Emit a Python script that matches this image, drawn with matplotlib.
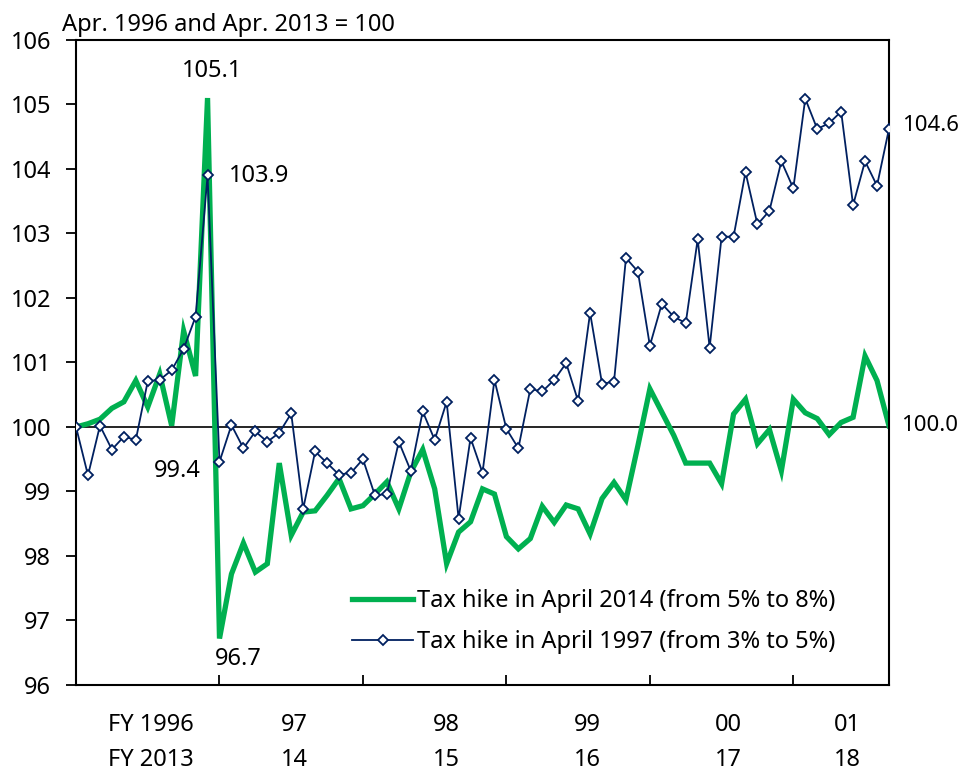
import numpy as np
import matplotlib
matplotlib.use("Agg")
import matplotlib.pyplot as plt
import matplotlib.transforms as mtransforms

plt.rcParams['font.family'] = ['Noto Sans', 'DejaVu Sans']

# monthly index, Apr. of the first FY = 100
months = np.arange(69)

# tax hike in April 1997 (FY1996 start)
blue = [100.0, 99.25, 100.02, 99.65, 99.85, 99.8, 100.71, 100.73, 100.88, 101.21, 101.71, 103.9,
        99.46, 100.03, 99.67, 99.93, 99.77, 99.91, 100.21, 98.73, 99.62, 99.44, 99.26, 99.29,
        99.5, 98.94, 98.96, 99.77, 99.32, 100.24, 99.8, 100.39, 98.58, 99.83, 99.29, 100.73,
        99.97, 99.67, 100.59, 100.55, 100.73, 100.99, 100.4, 101.77, 100.67, 100.7, 102.62, 102.41,
        101.26, 101.91, 101.71, 101.61, 102.91, 101.23, 102.95, 102.95, 103.95, 103.14, 103.35, 104.12,
        103.7, 105.09, 104.62, 104.71, 104.89, 103.44, 104.12, 103.74, 104.62]

# tax hike in April 2014 (FY2013 start)
green = [100.0, 100.05, 100.12, 100.29, 100.39, 100.72, 100.31, 100.82, 100.02, 101.49, 100.79, 105.1,
         96.72, 97.72, 98.2, 97.75, 97.88, 99.44, 98.32, 98.68, 98.7, 98.94, 99.2, 98.73,
         98.78, 98.96, 99.15, 98.73, 99.3, 99.65, 99.04, 97.88, 98.37, 98.53, 99.04, 98.96,
         98.3, 98.11, 98.27, 98.77, 98.52, 98.79, 98.73, 98.34, 98.89, 99.14, 98.87, 99.71,
         100.59, 100.23, 99.87, 99.44, 99.44, 99.44, 99.12, 100.2, 100.43, 99.74, 99.96, 99.32,
         100.43, 100.22, 100.13, 99.88, 100.07, 100.15, 101.1, 100.72, 100.02]

fy_ticks = [12, 24, 36, 48, 60]
label_pos = [6.3, 18.3, 31.0, 42.8, 54.6, 64.5]
fy_old = ['FY 1996', '97', '98', '99', '00', '01']
fy_new = ['FY 2013', '14', '15', '16', '17', '18']

GREEN = '#00B050'
NAVY = '#002060'
FS = 17

fig = plt.figure(figsize=(9.65, 7.76), dpi=100)
ax = fig.add_axes([0.0788, 0.1173, 0.8424, 0.8312])

ax.axhline(100, color='black', lw=1.2, zorder=1)
ax.plot(months, green, color=GREEN, lw=3.8, solid_joinstyle='miter', zorder=2,
        label='Tax hike in April 2014 (from 5% to 8%)')
ax.plot(months, blue, color=NAVY, lw=1.3, marker='D', markersize=5, markerfacecolor='white',
        markeredgecolor=NAVY, markeredgewidth=1.3, zorder=3,
        label='Tax hike in April 1997 (from 3% to 5%)')

ax.set_xlim(0, 68)
ax.set_ylim(96, 106)
ax.set_yticks(np.arange(96, 107, 1))
ax.tick_params(axis='y', direction='out', length=7, width=1.3, labelsize=FS, pad=11)
ax.set_xticks(fy_ticks)
ax.set_xticklabels([])
ax.tick_params(axis='x', direction='in', length=7, width=1.3)
for s in ax.spines.values():
    s.set_linewidth(1.5)

trans = mtransforms.blended_transform_factory(ax.transData, ax.transAxes)
for p, a, b in zip(label_pos, fy_old, fy_new):
    ax.text(p, -0.062, a, transform=trans, ha='center', va='center', fontsize=FS)
    ax.text(p, -0.116, b, transform=trans, ha='center', va='center', fontsize=FS)

ax.text(-0.017, 1.005, 'Apr. 1996 and Apr. 2013 = 100', transform=ax.transAxes,
        ha='left', va='bottom', fontsize=FS)

# value labels
ax.text(11.4, 105.52, '105.1', ha='center', va='center', fontsize=FS)
ax.text(12.8, 103.89, '103.9', ha='left', va='center', fontsize=FS)
ax.text(10.4, 99.32, '99.4', ha='right', va='center', fontsize=FS)
ax.text(11.6, 96.4, '96.7', ha='left', va='center', fontsize=FS)
ax.text(69.1, 104.67, '104.6', ha='left', va='center', fontsize=16, clip_on=False)
ax.text(69.0, 100.02, '100.0', ha='left', va='center', fontsize=16, clip_on=False)

ax.legend(loc='lower left', bbox_to_anchor=(0.325, 0.03), frameon=False, fontsize=FS,
          handlelength=2.6, handletextpad=0.15, labelspacing=0.7, borderpad=0)

fig.savefig('out.png', dpi=100)
